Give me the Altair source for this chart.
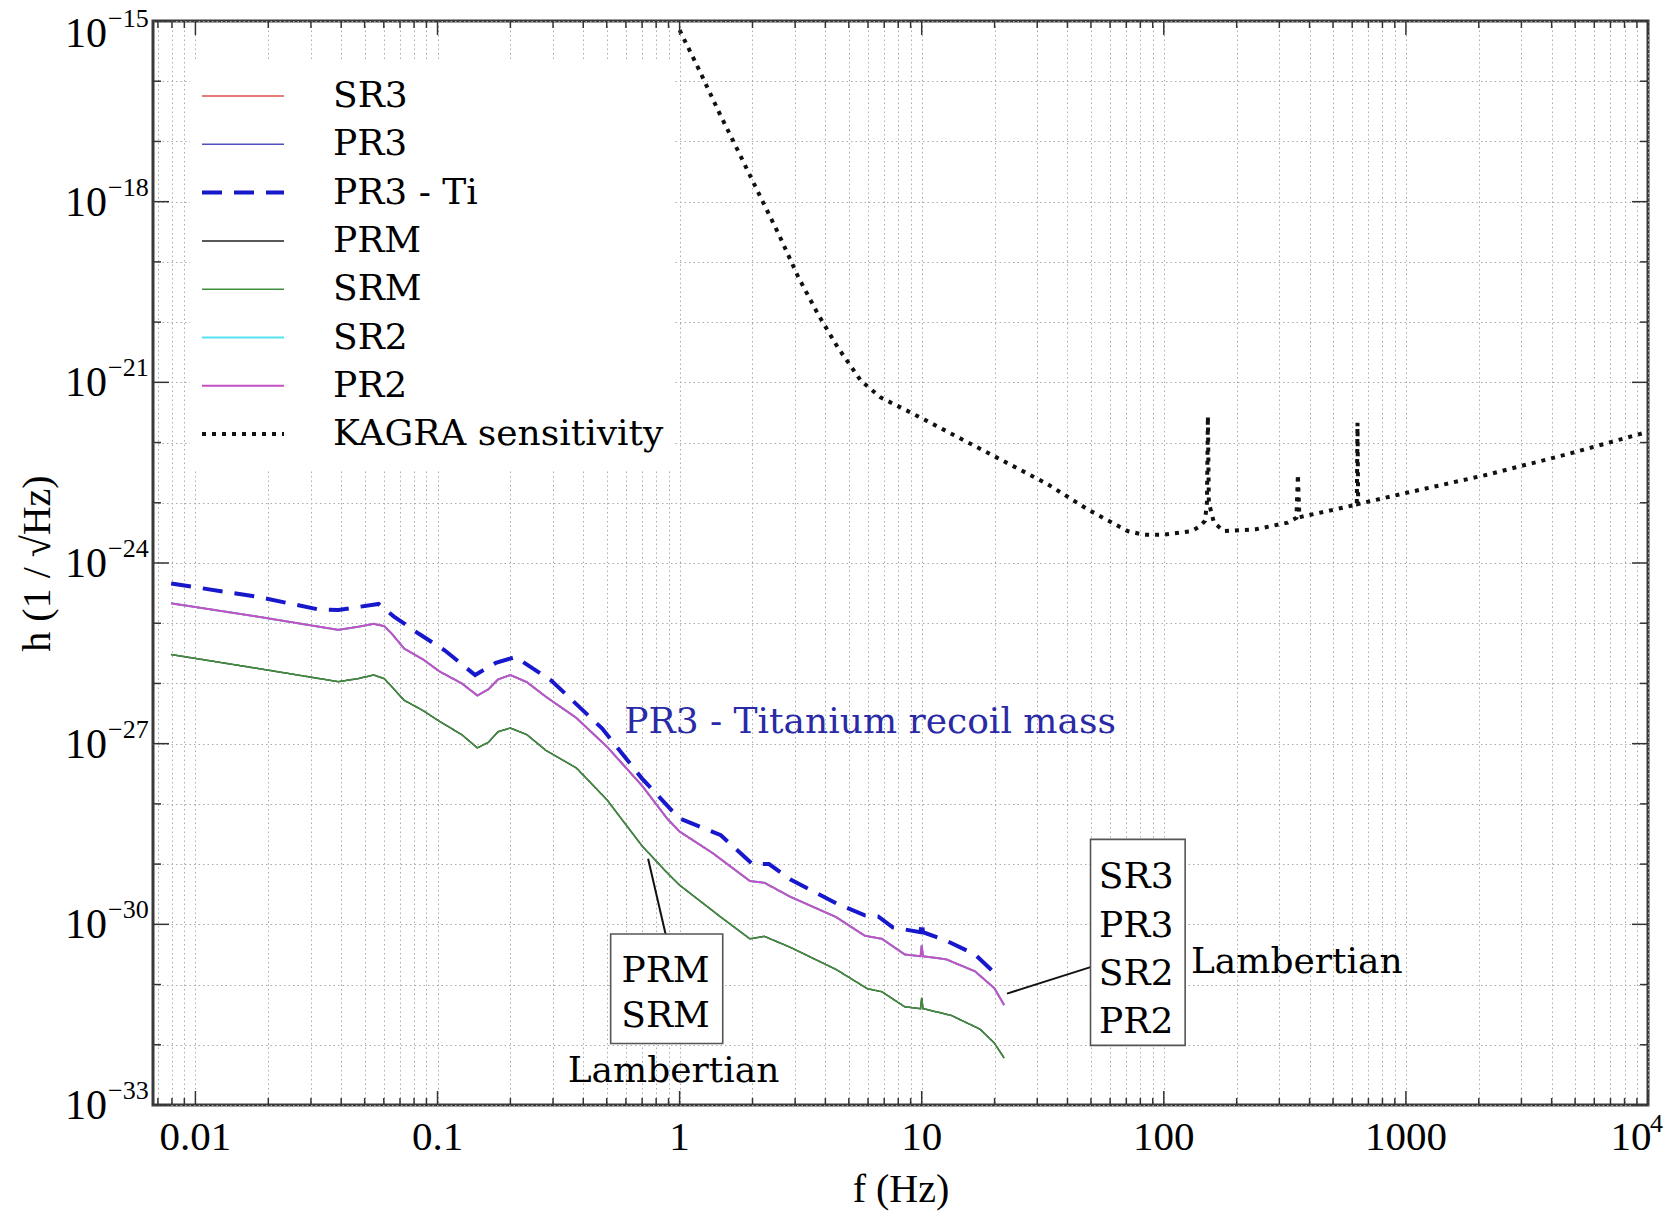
import altair as alt
import pandas as pd

FONT = "Liberation Serif, DejaVu Serif, serif"
TFONT = "DejaVu Serif, Liberation Serif, serif"
W, H = 1495, 1084

# ---------------- data ----------------
SERIES = ["SR3", "PR3", "PR3 - Ti", "PRM", "SRM", "SR2", "PR2", "KAGRA sensitivity"]
COLORS = ["#d9534f", "#5050c0", "#1717cc", "#222222", "#3f8f3f", "#55e3f0", "#c450c4", "#111111"]
DASHES = [[1, 0], [1, 0], [20, 12], [1, 0], [1, 0], [1, 0], [1, 0], [4, 6]]
WIDTHS = [1.5, 1.5, 4.0, 1.5, 1.5, 2.0, 2.0, 4.0]

# SR3 / PR3 / SR2 / PR2 (Lambertian) - overlapping
UPPER_F = [0.00794, 0.018, 0.0389, 0.0468, 0.0545, 0.0603, 0.0646, 0.0728, 0.0871, 0.102,
           0.126, 0.146, 0.162, 0.178, 0.200, 0.234, 0.280, 0.374, 0.501, 0.700,
           0.891, 1.00, 1.374, 1.95, 2.24, 2.86, 4.43, 5.82, 6.85, 8.51,
           9.89, 10.0, 10.12, 12.6, 16.6, 19.95, 21.9]
UPPER_H = [2.14e-25, 1.29e-25, 7.76e-26, 8.71e-26, 9.77e-26, 8.91e-26, 6.76e-26, 3.80e-26, 2.51e-26, 1.58e-26,
           1.00e-26, 6.31e-27, 7.94e-27, 1.17e-26, 1.38e-26, 1.05e-26, 6.03e-27, 2.69e-27, 8.91e-28, 2.00e-28,
           5.62e-29, 3.47e-29, 1.51e-29, 5.25e-30, 4.90e-30, 2.88e-30, 1.32e-30, 6.46e-31, 5.75e-31, 3.16e-31,
           2.95e-31, 4.47e-31, 2.95e-31, 2.63e-31, 1.66e-31, 8.71e-32, 4.57e-32]

# PRM / SRM (Lambertian)
LOWER_F = [0.00794, 0.018, 0.0389, 0.0468, 0.0545, 0.0603, 0.0646, 0.0728, 0.0871, 0.102,
           0.126, 0.146, 0.162, 0.178, 0.200, 0.234, 0.280, 0.374, 0.501, 0.700,
           0.891, 1.00, 1.48, 1.95, 2.24, 2.86, 4.43, 5.97, 6.85, 8.51,
           9.89, 10.0, 10.12, 13.2, 17.4, 19.95, 21.9]
LOWER_H = [3.02e-26, 1.78e-26, 1.07e-26, 1.20e-26, 1.38e-26, 1.20e-26, 8.91e-27, 5.25e-27, 3.55e-27, 2.34e-27,
           1.41e-27, 8.51e-28, 1.05e-27, 1.58e-27, 1.82e-27, 1.41e-27, 7.76e-28, 3.98e-28, 1.17e-28, 2.00e-29,
           7.08e-30, 4.47e-30, 1.32e-30, 5.75e-31, 6.31e-31, 4.17e-31, 1.78e-31, 8.51e-32, 7.59e-32, 4.27e-32,
           3.98e-32, 6.03e-32, 3.98e-32, 3.09e-32, 1.82e-32, 1.07e-32, 6.03e-33]

# PR3 with titanium recoil mass
TI_F = [0.00794, 0.018, 0.0321, 0.0389, 0.0571, 0.0661, 0.0841, 0.107, 0.143, 0.174,
        0.210, 0.295, 0.479, 0.700, 0.933, 1.00, 1.48, 2.00, 2.34, 2.86,
        4.43, 5.82, 6.61, 7.59, 9.89, 10.0, 10.12, 12.6, 16.6, 20.4]
TI_H = [4.57e-25, 2.75e-25, 1.70e-25, 1.66e-25, 2.09e-25, 1.29e-25, 6.61e-26, 3.55e-26, 1.38e-26, 2.19e-26,
        2.75e-26, 1.12e-26, 1.78e-27, 2.63e-28, 7.59e-29, 5.75e-29, 3.02e-29, 1.00e-29, 1.00e-29, 5.62e-30,
        2.24e-30, 1.41e-30, 1.35e-30, 8.91e-31, 7.41e-31, 1.12e-30, 7.41e-31, 5.37e-31, 3.16e-31, 1.45e-31]

# KAGRA sensitivity
KAGRA_F = [1.00, 1.21, 1.46, 1.76, 2.12, 2.56, 3.09, 3.72, 4.50, 5.60,
           6.76, 8.69, 10.5, 33.1, 48.5, 70.8, 82.6, 100, 130.6, 141,
           147.9, 150.7, 152.1, 153.5, 161.1, 177, 240, 325, 353, 358,
           363, 627, 631, 635, 1019, 2188, 4677, 10000]
KAGRA_H = [7.08e-16, 1.48e-16, 2.95e-17, 6.46e-18, 1.38e-18, 2.95e-19, 5.62e-20, 1.38e-20, 3.80e-21, 1.07e-21,
           5.62e-22, 3.39e-22, 2.29e-22, 2.04e-23, 7.76e-24, 3.39e-24, 2.95e-24, 2.95e-24, 3.39e-24, 4.07e-24,
           5.01e-24, 1.00e-23, 2.75e-22, 1.00e-23, 4.68e-24, 3.39e-24, 3.63e-24, 4.68e-24, 5.62e-24, 2.95e-23,
           5.75e-24, 9.33e-24, 2.14e-22, 9.55e-24, 1.48e-23, 2.95e-23, 6.46e-23, 1.51e-22]

CURVE_OF = {"SR3": "upper", "PR3": "upper", "SR2": "upper", "PR2": "upper",
            "PRM": "lower", "SRM": "lower", "PR3 - Ti": "ti", "KAGRA sensitivity": "kagra"}
CURVES = {"upper": (UPPER_F, UPPER_H), "lower": (LOWER_F, LOWER_H),
          "ti": (TI_F, TI_H), "kagra": (KAGRA_F, KAGRA_H)}
DRAW_ORDER = ["SR3", "PR3", "SR2", "PR2", "PRM", "SRM", "PR3 - Ti", "KAGRA sensitivity"]

# axes
X_DOMAIN = [0.00668, 10000]
Y_DOMAIN = [1e-33, 1e-15]
X_MAJOR = [0.01, 0.1, 1, 10, 100, 1000, 10000]
X_LABEL_V = [0.01, 0.1, 1, 10, 100, 1000]
X_LABEL_T = ["0.01", "0.1", "1", "10", "100", "1000"]
Y_LABEL_EXP = [-15, -18, -21, -24, -27, -30, -33]

# annotations
BOX_X1 = [0.519, 49.8]
BOX_X2 = [1.507, 122.5]
BOX_Y1 = [6.92e-31, 2.57e-29]
BOX_Y2 = [1.05e-32, 9.77e-33]
ANN_TEXT = ["PRM", "SRM", "SR3", "PR3", "SR2", "PR2"]
ANN_X = [0.875, 0.875, 76.9, 76.9, 76.9, 76.9]
ANN_Y = [1.70e-31, 2.95e-32, 6.17e-30, 9.55e-31, 1.51e-31, 2.40e-32]
LAMB_X = [0.944, 129.4]
LAMB_Y = [3.72e-33, 2.40e-31]
LAMB_ALIGN = ["center", "left"]
CONN_X1 = [0.741, 22.5]
CONN_Y1 = [1.23e-29, 7.08e-32]
CONN_X2 = [0.875, 49.8]
CONN_Y2 = [6.92e-31, 1.95e-31]
TI_LABEL = "PR3 - Titanium recoil mass"
TI_LABEL_X = [0.591]
TI_LABEL_Y = [2.29e-27]

# ---------------- tables ----------------
rows = []
for s in SERIES:
    fx, hy = CURVES[CURVE_OF[s]]
    for f, h in zip(fx, hy):
        rows.append({"series": s, "f": f, "h": h})
df = pd.DataFrame(rows)

x_minor = []
for d in range(-3, 4):
    for k in range(2, 10):
        v = float(f"{k}e{d}")
        if X_DOMAIN[0] <= v <= X_DOMAIN[1]:
            x_minor.append(v)
x_grid = X_MAJOR + x_minor
y_dec = [float(f"1e{e}") for e in range(-33, -14)]
y_lab = [float(f"1e{e}") for e in Y_LABEL_EXP]
y_unl = [v for v in y_dec if v not in y_lab]

xscale = alt.Scale(type="log", domain=X_DOMAIN, nice=False)
yscale = alt.Scale(type="log", domain=Y_DOMAIN, nice=False)
GRID = dict(grid=True, gridColor="#ababab", gridDash=[1.5, 3], gridWidth=1.0,
            labels=False, ticks=False, tickSize=0, domain=False)
xaxis = alt.Axis(values=x_grid, title="f (Hz)", titleX=W / 2, titleY=84,
                 titleBaseline="middle", titleAlign="center", **GRID)
yaxis = alt.Axis(values=y_dec, title="h (1 / √Hz)", titleX=-116, titleY=H / 2,
                 titleBaseline="middle", titleAlign="center", titleAngle=270, **GRID)


def X(field):
    return alt.X(field, type="quantitative", scale=xscale, axis=xaxis)


def Y(field):
    return alt.Y(field, type="quantitative", scale=yscale, axis=yaxis)


leg = alt.Legend(title=None, orient="none", legendX=37, legendY=41, symbolType="stroke",
                 symbolSize=6724, clipHeight=48, rowPadding=0.3, labelFont=TFONT,
                 labelFontSize=36, labelOffset=47, padding=10, fillColor="white",
                 labelLimit=600, symbolOffset=0, labelColor="black")

layers = []
for s in DRAW_ORDER:
    layers.append(
        alt.Chart(df).transform_filter(alt.datum.series == s).mark_line(clip=True).encode(
            x=X("f"), y=Y("h"),
            color=alt.Color("series:N", scale=alt.Scale(domain=SERIES, range=COLORS), legend=leg),
            strokeDash=alt.StrokeDash("series:N", scale=alt.Scale(domain=SERIES, range=DASHES), legend=leg),
            strokeWidth=alt.StrokeWidth("series:N", scale=alt.Scale(type="ordinal", domain=SERIES, range=WIDTHS), legend=leg),
            order=alt.Order("f:Q"),
        )
    )

# inward ticks
TICK = "#333333"
xmaj = alt.Chart(pd.DataFrame({"v": X_MAJOR}))
xmin = alt.Chart(pd.DataFrame({"v": x_minor}))
ylab = alt.Chart(pd.DataFrame({"v": y_lab}))
yunl = alt.Chart(pd.DataFrame({"v": y_unl}))
for c, ln in [(xmaj, 14), (xmin, 7)]:
    layers.append(c.mark_rule(color=TICK, strokeWidth=1.5).encode(x=X("v"), y=alt.value(H), y2=alt.value(H - ln)))
    layers.append(c.mark_rule(color=TICK, strokeWidth=1.5).encode(x=X("v"), y=alt.value(0), y2=alt.value(ln)))
for c, ln in [(ylab, 16), (yunl, 8)]:
    layers.append(c.mark_rule(color=TICK, strokeWidth=1.5).encode(y=Y("v"), x=alt.value(0), x2=alt.value(ln)))
    layers.append(c.mark_rule(color=TICK, strokeWidth=1.5).encode(y=Y("v"), x=alt.value(W), x2=alt.value(W - ln)))

# tick labels (the top one sits a little lower so it stays inside the canvas)
ylab_df = pd.DataFrame({"v": y_lab, "e": ["\u2212" + str(abs(e)) for e in Y_LABEL_EXP]})
top_v = max(y_lab)
for filt, shift in [(alt.datum.v < top_v * 0.5, 0), (alt.datum.v > top_v * 0.5, 12)]:
    layers.append(alt.Chart(ylab_df).transform_filter(filt)
                  .mark_text(align="right", baseline="middle", font=FONT, fontSize=42, dy=1 + shift, color="black")
                  .encode(y=Y("v"), x=alt.value(-46), text=alt.value("10")))
    layers.append(alt.Chart(ylab_df).transform_filter(filt)
                  .mark_text(align="left", baseline="middle", font=FONT, fontSize=26, dy=-14 + shift, color="black")
                  .encode(y=Y("v"), x=alt.value(-45), text="e:N"))
xlab_df = pd.DataFrame({"v": X_LABEL_V, "t": X_LABEL_T})
layers.append(alt.Chart(xlab_df).mark_text(align="center", baseline="middle", font=FONT, fontSize=41, color="black")
              .encode(x=X("v"), y=alt.value(H + 33), text="t:N"))
x4_df = pd.DataFrame({"v": [10000], "t": ["10"], "e": ["4"]})
layers.append(alt.Chart(x4_df).mark_text(align="center", baseline="middle", font=FONT, fontSize=41, dx=-17, color="black")
              .encode(x=X("v"), y=alt.value(H + 33), text="t:N"))
layers.append(alt.Chart(x4_df).mark_text(align="left", baseline="middle", font=FONT, fontSize=26, dx=2, dy=-14, color="black")
              .encode(x=X("v"), y=alt.value(H + 33), text="e:N"))

# annotations
conn_df = pd.DataFrame({"x1": CONN_X1, "y1": CONN_Y1, "x2": CONN_X2, "y2": CONN_Y2})
layers.append(alt.Chart(conn_df).mark_rule(color="#111111", strokeWidth=2)
              .encode(x=X("x1"), y=Y("y1"), x2=alt.X2("x2"), y2=alt.Y2("y2")))
box_df = pd.DataFrame({"x1": BOX_X1, "x2": BOX_X2, "y1": BOX_Y1, "y2": BOX_Y2})
layers.append(alt.Chart(box_df).mark_rect(fill="white", stroke="#555555", strokeWidth=1.6)
              .encode(x=X("x1"), x2=alt.X2("x2"), y=Y("y1"), y2=alt.Y2("y2")))
ann_df = pd.DataFrame({"x": ANN_X, "y": ANN_Y, "t": ANN_TEXT})
layers.append(alt.Chart(ann_df).mark_text(align="center", baseline="middle", font=TFONT, fontSize=36, color="black")
              .encode(x=X("x"), y=Y("y"), text="t:N"))
for i in range(len(LAMB_X)):
    ldf = pd.DataFrame({"x": [LAMB_X[i]], "y": [LAMB_Y[i]], "t": ["Lambertian"]})
    layers.append(alt.Chart(ldf).mark_text(align=LAMB_ALIGN[i], baseline="middle", font=TFONT, fontSize=36, color="black")
                  .encode(x=X("x"), y=Y("y"), text="t:N"))
ti_df = pd.DataFrame({"x": TI_LABEL_X, "y": TI_LABEL_Y, "t": [TI_LABEL]})
layers.append(alt.Chart(ti_df).mark_text(align="left", baseline="middle", font=TFONT, fontSize=36, color="#2a2aa6")
              .encode(x=X("x"), y=Y("y"), text="t:N"))

chart = alt.layer(*layers).properties(
    width=W, height=H,
    padding={"left": 153, "top": 21, "right": 24, "bottom": 108},
    autosize=alt.AutoSizeParams(type="none"),
    background="white",
).configure_view(
    stroke="#3a3a3a", strokeWidth=3
).configure_axis(
    titleFont=FONT, titleFontSize=40, titleFontWeight="normal", titleColor="black"
)

chart.save("out.html", embed_options={"renderer": "svg", "actions": False})
